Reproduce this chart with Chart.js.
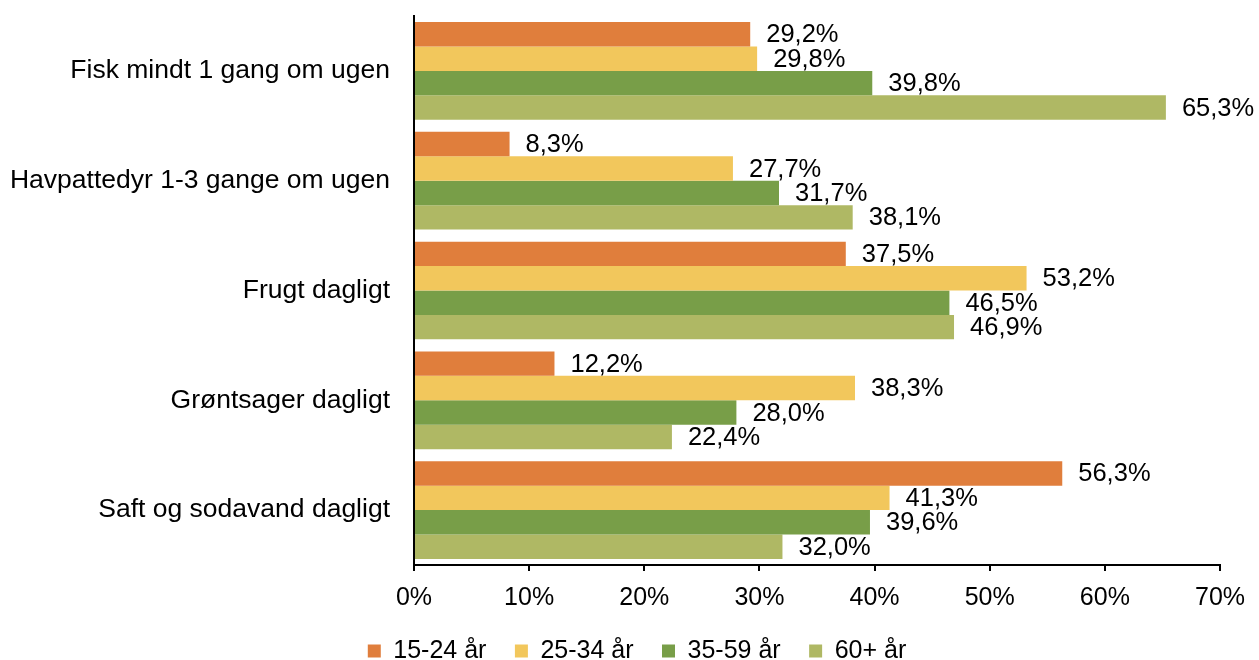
<!DOCTYPE html>
<html>
<head>
<meta charset="utf-8">
<script src="https://cdn.jsdelivr.net/npm/chart.js@4/dist/chart.umd.min.js"></script>
<style>
  html, body { margin: 0; padding: 0; background: #fff; }
  #wrap { width: 1259px; height: 660px; }
</style>
</head>
<body>
<div id="wrap"><canvas id="myChart" width="1259" height="660"></canvas></div>
<script>
const categories = [
  'Fisk mindt 1 gang om ugen',
  'Havpattedyr 1-3 gange om ugen',
  'Frugt dagligt',
  'Grøntsager dagligt',
  'Saft og sodavand dagligt'
]
const seriesNames = ['15-24 år', '25-34 år', '35-59 år', '60+ år']
const age15to24 = [29.2, 8.3, 37.5, 12.2, 56.3]
const age25to34 = [29.8, 27.7, 53.2, 38.3, 41.3]
const age35to59 = [39.8, 31.7, 46.5, 28.0, 39.6]
const age60plus = [65.3, 38.1, 46.9, 22.4, 32.0]
const xTicks = [0, 10, 20, 30, 40, 50, 60, 70]

const colors = ['#E07E3C', '#F2C75C', '#789E48', '#AFB864']
const font = 'Liberation Sans, Arial, sans-serif'

// percent labels with comma decimals, drawn right of each bar
const valueLabels = {
  id: 'valueLabels',
  afterDatasetsDraw(chart) {
    const { ctx } = chart
    ctx.save()
    ctx.font = '25.5px ' + font
    ctx.fillStyle = '#000'
    ctx.textAlign = 'left'
    ctx.textBaseline = 'middle'
    chart.data.datasets.forEach((ds, i) => {
      chart.getDatasetMeta(i).data.forEach((bar, j) => {
        const txt = ds.data[j].toFixed(1).replace('.', ',') + '%'
        ctx.fillText(txt, bar.x + 16, bar.y + 1)
      })
    })
    ctx.restore()
  }
}

// legend sits a bit right of the canvas centre in the original
const legendShift = {
  id: 'legendShift',
  afterLayout(chart) {
    chart.legend.left = 54
  }
}

new Chart(document.getElementById('myChart'), {
  type: 'bar',
  plugins: [valueLabels, legendShift],
  data: {
    labels: categories,
    datasets: [age15to24, age25to34, age35to59, age60plus].map((d, i) => ({
      label: seriesNames[i],
      data: d,
      backgroundColor: colors[i],
      borderWidth: 0,
      categoryPercentage: 0.89,
      barPercentage: 1.0
    }))
  },
  options: {
    indexAxis: 'y',
    responsive: false,
    animation: false,
    layout: { padding: { top: 16, right: 39, left: 0, bottom: 0 } },
    plugins: {
      legend: {
        position: 'bottom',
        maxHeight: 50,
        labels: {
          boxWidth: 13,
          boxHeight: 13,
          padding: 28.5,
          color: '#000',
          font: { family: font, size: 25 }
        }
      },
      tooltip: { enabled: false }
    },
    scales: {
      x: {
        min: 0,
        max: 70,
        afterBuildTicks(axis) { axis.ticks = xTicks.map(v => ({ value: v })) },
        grid: { drawOnChartArea: false, drawTicks: true, tickLength: 6, color: '#000', lineWidth: 2 },
        border: { color: '#000', width: 2 },
        ticks: {
          color: '#000',
          padding: 12,
          maxRotation: 0,
          font: { family: font, size: 25 },
          callback: v => v + '%'
        },
        afterFit(axis) { axis.height = 45 }
      },
      y: {
        grid: { display: false },
        border: { color: '#000', width: 2 },
        ticks: {
          color: '#000',
          padding: 16,
          font: { family: font, size: 26.5 }
        },
        afterFit(axis) {
          axis.width = 414
          axis.paddingTop = 0
          axis.paddingBottom = 0
        }
      }
    }
  }
})
</script>
</body>
</html>
